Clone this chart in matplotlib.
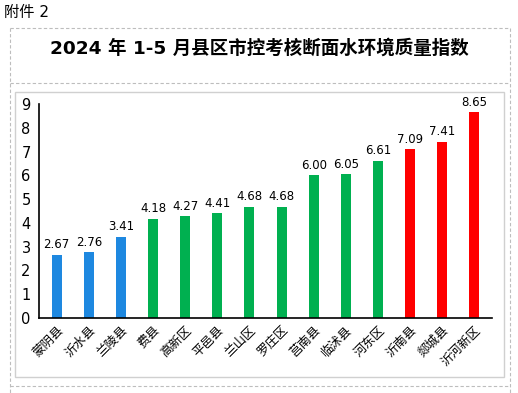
import numpy as np
import matplotlib
matplotlib.use('Agg')
from matplotlib import pyplot as plt
from matplotlib.patches import Rectangle
from matplotlib.lines import Line2D

plt.rcParams['font.family'] = ['DejaVu Sans', 'Noto Sans CJK SC']

counties = ['蒙阴县', '沂水县', '兰陵县', '费县', '高新区', '平邑县', '兰山区',
            '罗庄区', '莒南县', '临沭县', '河东区', '沂南县', '郯城县', '沂河新区']
values = [2.67, 2.76, 3.41, 4.18, 4.27, 4.41, 4.68,
          4.68, 6.00, 6.05, 6.61, 7.09, 7.41, 8.65]
groups = ['blue'] * 3 + ['green'] * 8 + ['red'] * 3
palette = {'blue': '#1E88E0', 'green': '#00B050', 'red': '#FF0000'}

W, H = 518, 393
fig = plt.figure(figsize=(W / 100, H / 100), dpi=100)

# page decorations
def fx(px):
    return px / W

def fy(py):
    return 1 - py / H

fig.text(fx(4), fy(12), '附件 2', fontsize=11, va='center', ha='left')
dash = dict(color='#bdbdbd', lw=0.8, ls=(0, (3, 2)), transform=fig.transFigure)
fig.add_artist(Line2D([fx(10), fx(510)], [fy(28), fy(28)], **dash))
fig.add_artist(Line2D([fx(10), fx(10)], [fy(28), fy(393)], **dash))
fig.add_artist(Line2D([fx(510), fx(510)], [fy(28), fy(393)], **dash))
fig.add_artist(Line2D([fx(10), fx(510)], [fy(83), fy(83)], **dash))
fig.add_artist(Line2D([fx(10), fx(510)], [fy(386), fy(386)], **dash))
fig.add_artist(Rectangle((fx(15), fy(377)), fx(504) - fx(15), fy(92) - fy(377),
                         fill=False, ec='#d0d0d0', lw=1, transform=fig.transFigure))

fig.text(0.5, fy(48), '2024 年 1-5 月县区市控考核断面水环境质量指数',
         fontsize=13.3, fontweight='bold', ha='center', va='center')

ax = fig.add_axes([fx(39), fy(318), fx(492) - fx(39), fy(104) - fy(318)])
x = np.arange(len(counties))
colors = [palette[g] for g in groups]
bars = ax.bar(x, values, width=0.31, color=colors)
for xi, v in zip(x, values):
    ax.text(xi, v + 0.15, f'{v:.2f}', ha='center', va='bottom', fontsize=8.5)

ax.set_ylim(0, 9)
ax.set_xlim(-0.55, len(counties) - 0.45)
ax.set_yticks(range(10))
ax.tick_params(axis='y', length=0, labelsize=10.5, pad=6)
ax.tick_params(axis='x', length=0, pad=4)
ax.set_xticks(x)
ax.set_xticklabels(counties, rotation=45, ha='right', va='top',
                   rotation_mode='anchor', fontsize=9,
                   family=['Noto Sans CJK SC', 'DejaVu Sans'])
for s in ['top', 'right']:
    ax.spines[s].set_visible(False)
ax.spines['left'].set_linewidth(1.2)
ax.spines['bottom'].set_linewidth(1.2)

fig.savefig('out.png', dpi=100)
